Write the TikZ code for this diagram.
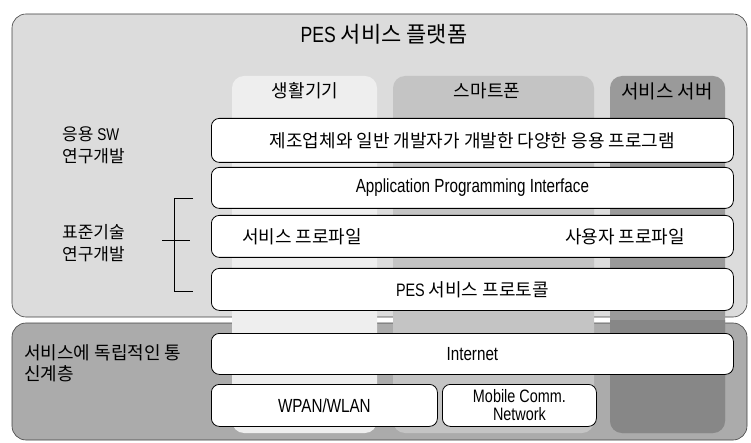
\documentclass[tikz,border=0pt]{standalone}
\usepackage{fontspec}
\setmainfont{Noto Sans CJK KR}
\newfontfamily\latin[FakeStretch=0.8]{Liberation Sans}
\definecolor{toppanel}{HTML}{DCDCDC}
\definecolor{botpanel}{HTML}{ABABAB}
\definecolor{colhome}{HTML}{EEEEEE}
\definecolor{colphone}{HTML}{C4C4C4}
\definecolor{colserver}{HTML}{9A9A9A}
\definecolor{colserverdark}{HTML}{878787}
\begin{document}
\begin{tikzpicture}[x=1pt,y=-1pt,
  panel/.style={draw=black!75, line width=0.6pt, rounded corners=14pt},
  colstrip/.style={draw=none, rounded corners=12pt},
  wbox/.style={draw=black, fill=white, line width=0.8pt, rounded corners=8pt,
    anchor=north west, inner sep=0pt, align=center,
    font=\fontsize{18}{20}\selectfont},
  lab/.style={inner sep=0pt, align=left, anchor=west, font=\fontsize{17}{22}\selectfont},
  collab/.style={inner sep=0pt, font=\fontsize{18}{20}\selectfont},
  intext/.style={inner sep=0pt, font=\fontsize{18}{20}\selectfont},
  brk/.style={draw=black, line width=0.8pt}
]
\useasboundingbox (0,0) rectangle (751,443);
% panels
\draw[panel, fill=toppanel] (12,14) rectangle (747,317);
\draw[panel, fill=botpanel] (12,323) rectangle (747,440);
% column strips
\fill[colstrip, fill=colhome] (232,76) rectangle (377,433);
\fill[colstrip, fill=colphone] (393,76) rectangle (594,433);
\fill[colstrip, fill=colserver] (610,76) rectangle (725,433);
\begin{scope}
  \clip (600,320) rectangle (740,440);
  \fill[colstrip, fill=colserverdark] (610,76) rectangle (725,433);
\end{scope}
% title and column labels
\node[inner sep=0pt, font=\fontsize{22}{24}\selectfont] (title) at (384,34) {{\latin PES} 서비스 플랫폼};
\node[collab] (home) at (305,91) {생활기기};
\node[collab] (phone) at (487,91) {스마트폰};
\node[collab, font=\fontsize{19}{20}\selectfont] (server) at (667,91) {서비스 서버};
% boxes
\node[wbox, minimum width=522pt, minimum height=44pt] (app) at (211,118) {제조업체와 일반 개발자가 개발한 다양한 응용 프로그램};
\node[wbox, minimum width=522pt, minimum height=41pt, font=\fontsize{19}{20}\selectfont\latin] (api) at (211,167) {Application Programming Interface};
\node[wbox, minimum width=522pt, minimum height=42pt] (prof) at (211,215) {};
\node[intext] (svcprof) at (302,237) {서비스 프로파일};
\node[intext] (userprof) at (625,237) {사용자 프로파일};
\node[wbox, minimum width=522pt, minimum height=42pt] (pes) at (211,268) {{\latin PES} 서비스 프로토콜};
\node[wbox, minimum width=522pt, minimum height=41pt, font=\fontsize{19}{20}\selectfont\latin] (inet) at (211,333) {Internet};
\node[wbox, minimum width=226pt, minimum height=42pt, font=\fontsize{19}{20}\selectfont\latin] (wpan) at (211,384) {WPAN/WLAN};
\node[wbox, minimum width=154pt, minimum height=42pt, font=\fontsize{18}{18}\selectfont\latin] (mobile) at (442,384) {Mobile Comm.\\Network};
% left labels
\node[lab] (appsw) at (62,145) {응용 {\latin SW}\\연구개발};
\node[lab] (std) at (62,243) {표준기술\\연구개발};
\node[lab, font=\fontsize{18}{21}\selectfont] (net) at (24,363) {서비스에 독립적인 통\\신계층};
% bracket
\coordinate (bt) at (174,198);
\coordinate (bb) at (174,291);
\coordinate (btr) at (193,198);
\coordinate (bbr) at (193,291);
\coordinate (bml) at (162,240);
\coordinate (bmr) at (190,240);
\draw[brk] (btr) -- (bt) -- (bb) -- (bbr);
\draw[brk] (bml) -- (bmr);
\end{tikzpicture}
\end{document}
